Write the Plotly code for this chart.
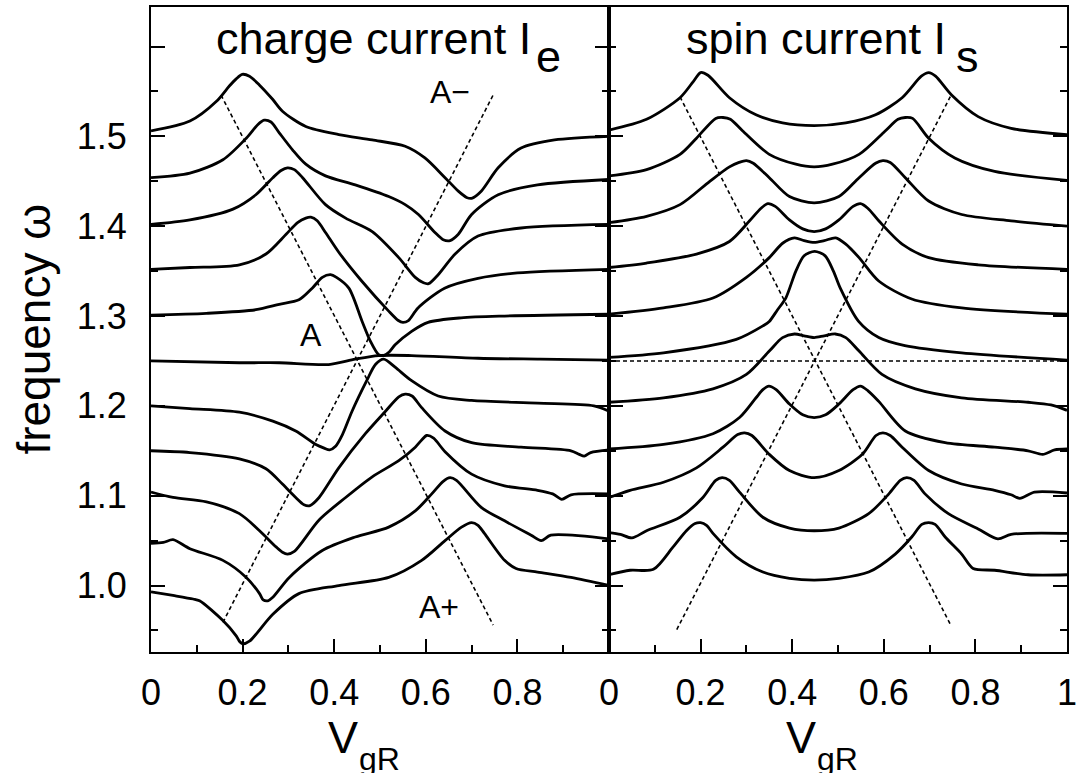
import plotly.graph_objects as go

# ---------------- data: charge current panel (V_gR, frequency) ----------------
charge_150_V = [0, 0.085, 0.143, 0.171, 0.186, 0.199, 0.215, 0.237, 0.266, 0.287, 0.338, 0.410, 0.483, 0.555, 0.598, 0.642, 0.671, 0.689, 0.700, 0.721, 0.758, 0.808, 0.881, 1.0]
charge_150_w = [1.506, 1.517, 1.539, 1.556, 1.564, 1.569, 1.567, 1.557, 1.541, 1.528, 1.511, 1.502, 1.496, 1.489, 1.476, 1.454, 1.439, 1.432, 1.431, 1.439, 1.465, 1.487, 1.496, 1.500]

charge_145_V = [0, 0.085, 0.157, 0.208, 0.233, 0.247, 0.262, 0.280, 0.309, 0.338, 0.381, 0.446, 0.519, 0.555, 0.584, 0.620, 0.638, 0.653, 0.671, 0.700, 0.758, 0.844, 1.0]
charge_145_w = [1.454, 1.459, 1.474, 1.498, 1.513, 1.518, 1.516, 1.504, 1.485, 1.469, 1.456, 1.446, 1.433, 1.424, 1.413, 1.393, 1.385, 1.384, 1.391, 1.413, 1.435, 1.446, 1.452]

charge_140_V = [0, 0.085, 0.179, 0.229, 0.266, 0.284, 0.298, 0.313, 0.331, 0.381, 0.425, 0.483, 0.541, 0.577, 0.595, 0.606, 0.627, 0.664, 0.714, 0.808, 1.0]
charge_140_w = [1.402, 1.407, 1.419, 1.435, 1.454, 1.462, 1.465, 1.463, 1.454, 1.424, 1.409, 1.394, 1.365, 1.343, 1.337, 1.336, 1.346, 1.369, 1.389, 1.398, 1.402]

charge_135_V = [0, 0.085, 0.193, 0.251, 0.295, 0.320, 0.338, 0.349, 0.363, 0.381, 0.410, 0.460, 0.518, 0.540, 0.550, 0.562, 0.583, 0.641, 0.714, 0.800, 1.0]
charge_135_w = [1.352, 1.354, 1.357, 1.369, 1.391, 1.404, 1.409, 1.410, 1.406, 1.393, 1.371, 1.339, 1.306, 1.295, 1.293, 1.295, 1.309, 1.331, 1.342, 1.348, 1.352]

charge_130_V = [0, 0.121, 0.229, 0.280, 0.323, 0.352, 0.374, 0.392, 0.405, 0.432, 0.461, 0.479, 0.497, 0.508, 0.520, 0.533, 0.569, 0.605, 0.677, 0.772, 1.0]
charge_130_w = [1.301, 1.303, 1.307, 1.313, 1.318, 1.331, 1.343, 1.346, 1.343, 1.331, 1.294, 1.272, 1.257, 1.256, 1.260, 1.268, 1.283, 1.293, 1.298, 1.300, 1.302]

charge_125_V = [0, 0.193, 0.280, 0.388, 0.446, 0.497, 0.569, 0.714, 0.850, 1.0]
charge_125_w = [1.250, 1.248, 1.248, 1.246, 1.252, 1.256, 1.256, 1.253, 1.252, 1.251]

charge_120_V = [0, 0.085, 0.193, 0.266, 0.316, 0.360, 0.378, 0.390, 0.403, 0.418, 0.439, 0.471, 0.490, 0.508, 0.533, 0.569, 0.627, 0.700, 0.844, 0.967, 1.0]
charge_120_w = [1.200, 1.197, 1.193, 1.183, 1.172, 1.157, 1.153, 1.151, 1.155, 1.168, 1.194, 1.228, 1.246, 1.252, 1.243, 1.228, 1.211, 1.206, 1.203, 1.200, 1.194]

charge_115_V = [0, 0.085, 0.193, 0.251, 0.287, 0.316, 0.334, 0.347, 0.367, 0.410, 0.468, 0.512, 0.541, 0.555, 0.570, 0.591, 0.642, 0.700, 0.808, 0.917, 0.935, 0.946, 0.960, 1.0]
charge_115_w = [1.150, 1.148, 1.141, 1.130, 1.113, 1.098, 1.090, 1.089, 1.098, 1.131, 1.169, 1.194, 1.210, 1.213, 1.211, 1.198, 1.172, 1.159, 1.154, 1.150, 1.146, 1.144, 1.148, 1.151]

charge_110_V = [0, 0.048, 0.121, 0.193, 0.237, 0.273, 0.287, 0.298, 0.313, 0.367, 0.425, 0.483, 0.541, 0.577, 0.591, 0.602, 0.617, 0.642, 0.700, 0.772, 0.844, 0.877, 0.897, 0.917, 1.0]
charge_110_w = [1.104, 1.098, 1.093, 1.080, 1.061, 1.043, 1.037, 1.035, 1.038, 1.073, 1.098, 1.121, 1.139, 1.154, 1.162, 1.167, 1.164, 1.149, 1.124, 1.111, 1.106, 1.102, 1.096, 1.101, 1.102]

charge_105_V = [0, 0.027, 0.048, 0.085, 0.157, 0.208, 0.237, 0.245, 0.255, 0.266, 0.302, 0.374, 0.446, 0.519, 0.577, 0.613, 0.638, 0.653, 0.667, 0.721, 0.772, 0.830, 0.852, 0.873, 1.0]
charge_105_w = [1.047, 1.048, 1.051, 1.041, 1.028, 1.009, 0.991, 0.984, 0.983, 0.987, 1.009, 1.039, 1.054, 1.065, 1.083, 1.102, 1.116, 1.120, 1.117, 1.087, 1.072, 1.056, 1.050, 1.056, 1.052]

charge_100_V = [0, 0.048, 0.092, 0.106, 0.157, 0.186, 0.193, 0.200, 0.215, 0.266, 0.323, 0.410, 0.519, 0.591, 0.642, 0.678, 0.700, 0.714, 0.728, 0.772, 0.797, 0.844, 0.917, 1.0]
charge_100_w = [0.993, 0.989, 0.985, 0.983, 0.961, 0.944, 0.938, 0.935, 0.938, 0.968, 0.991, 1.000, 1.009, 1.028, 1.050, 1.065, 1.070, 1.067, 1.058, 1.028, 1.019, 1.015, 1.009, 1.000]

# ---------------- data: spin current panel ----------------
spin_150_V = [0, 0.082, 0.155, 0.184, 0.200, 0.216, 0.263, 0.321, 0.379, 0.448, 0.517, 0.582, 0.640, 0.682, 0.698, 0.713, 0.748, 0.806, 0.878, 1.0]
spin_150_w = [1.507, 1.519, 1.543, 1.561, 1.571, 1.568, 1.543, 1.524, 1.515, 1.512, 1.515, 1.524, 1.543, 1.567, 1.571, 1.567, 1.546, 1.522, 1.509, 1.502]

spin_145_V = [0, 0.082, 0.155, 0.191, 0.233, 0.249, 0.265, 0.292, 0.350, 0.408, 0.448, 0.488, 0.546, 0.603, 0.631, 0.647, 0.663, 0.698, 0.755, 0.842, 1.0]
spin_145_w = [1.456, 1.463, 1.480, 1.498, 1.520, 1.521, 1.519, 1.506, 1.480, 1.469, 1.466, 1.469, 1.480, 1.506, 1.519, 1.521, 1.520, 1.498, 1.476, 1.461, 1.451]

spin_140_V = [0, 0.082, 0.155, 0.220, 0.263, 0.284, 0.300, 0.315, 0.350, 0.394, 0.448, 0.502, 0.546, 0.582, 0.598, 0.614, 0.647, 0.698, 0.770, 0.878, 1.0]
spin_140_w = [1.404, 1.411, 1.424, 1.450, 1.466, 1.471, 1.473, 1.470, 1.454, 1.433, 1.426, 1.433, 1.454, 1.470, 1.473, 1.471, 1.454, 1.428, 1.413, 1.406, 1.400]

spin_135_V = [0, 0.082, 0.191, 0.263, 0.307, 0.332, 0.347, 0.363, 0.394, 0.423, 0.448, 0.473, 0.502, 0.533, 0.549, 0.565, 0.589, 0.640, 0.698, 0.806, 1.0]
spin_135_w = [1.354, 1.359, 1.369, 1.383, 1.406, 1.420, 1.425, 1.422, 1.407, 1.397, 1.394, 1.397, 1.407, 1.422, 1.425, 1.420, 1.406, 1.380, 1.365, 1.357, 1.352]

spin_130_V = [0, 0.119, 0.227, 0.300, 0.350, 0.379, 0.405, 0.426, 0.448, 0.470, 0.495, 0.517, 0.546, 0.589, 0.661, 0.770, 1.0]
spin_130_w = [1.302, 1.309, 1.320, 1.343, 1.365, 1.381, 1.387, 1.384, 1.382, 1.384, 1.387, 1.380, 1.365, 1.339, 1.319, 1.309, 1.302]

spin_125_V = [0, 0.119, 0.278, 0.336, 0.350, 0.368, 0.386, 0.408, 0.426, 0.449, 0.472, 0.490, 0.505, 0.545, 0.589, 0.646, 0.770, 1.0]
spin_125_w = [1.254, 1.259, 1.274, 1.289, 1.294, 1.307, 1.320, 1.350, 1.367, 1.372, 1.367, 1.350, 1.331, 1.294, 1.276, 1.267, 1.259, 1.251]

spin_120_V = [0, 0.119, 0.227, 0.300, 0.350, 0.379, 0.405, 0.426, 0.448, 0.470, 0.494, 0.517, 0.546, 0.596, 0.669, 0.770, 0.915, 0.965, 1.0]
spin_120_w = [1.204, 1.209, 1.219, 1.235, 1.261, 1.276, 1.280, 1.278, 1.276, 1.278, 1.280, 1.276, 1.261, 1.235, 1.219, 1.209, 1.204, 1.201, 1.195]

spin_115_V = [0, 0.119, 0.227, 0.285, 0.321, 0.336, 0.349, 0.365, 0.394, 0.423, 0.448, 0.473, 0.502, 0.533, 0.549, 0.565, 0.589, 0.647, 0.734, 0.842, 0.915, 0.947, 0.973, 1.0]
spin_115_w = [1.152, 1.157, 1.169, 1.187, 1.209, 1.218, 1.222, 1.218, 1.202, 1.190, 1.187, 1.190, 1.202, 1.218, 1.222, 1.217, 1.205, 1.172, 1.159, 1.154, 1.150, 1.146, 1.151, 1.152]

spin_110_V = [0, 0.046, 0.119, 0.191, 0.249, 0.281, 0.296, 0.312, 0.350, 0.394, 0.448, 0.502, 0.553, 0.583, 0.598, 0.614, 0.640, 0.698, 0.770, 0.842, 0.878, 0.897, 0.929, 1.0]
spin_110_w = [1.098, 1.106, 1.115, 1.131, 1.154, 1.168, 1.170, 1.167, 1.146, 1.128, 1.120, 1.128, 1.146, 1.167, 1.170, 1.167, 1.154, 1.128, 1.113, 1.106, 1.101, 1.097, 1.104, 1.103]

spin_105_V = [0, 0.025, 0.050, 0.082, 0.155, 0.205, 0.233, 0.247, 0.263, 0.285, 0.336, 0.394, 0.448, 0.502, 0.567, 0.611, 0.636, 0.650, 0.666, 0.690, 0.741, 0.806, 0.849, 0.878, 1.0]
spin_105_w = [1.059, 1.057, 1.053, 1.061, 1.076, 1.098, 1.117, 1.120, 1.117, 1.104, 1.076, 1.064, 1.061, 1.064, 1.080, 1.102, 1.117, 1.120, 1.117, 1.102, 1.080, 1.063, 1.052, 1.057, 1.058]

spin_100_V = [0, 0.046, 0.097, 0.140, 0.169, 0.188, 0.200, 0.213, 0.227, 0.278, 0.336, 0.394, 0.448, 0.502, 0.567, 0.625, 0.661, 0.683, 0.698, 0.712, 0.734, 0.770, 0.795, 0.842, 0.915, 1.0]
spin_100_w = [1.012, 1.017, 1.018, 1.043, 1.061, 1.069, 1.070, 1.067, 1.058, 1.032, 1.015, 1.008, 1.006, 1.008, 1.015, 1.035, 1.054, 1.068, 1.070, 1.068, 1.054, 1.035, 1.019, 1.017, 1.012, 1.012]

# ---------------- guide lines (dashed) ----------------
charge_Aplus_V = [0.153, 0.747]
charge_Aplus_w = [1.546, 0.956]
charge_Aminus_V = [0.157, 0.747]
charge_Aminus_w = [0.959, 1.546]
spin_Aplus_V = [0.155, 0.747]
spin_Aplus_w = [1.544, 0.955]
spin_Aminus_V = [0.148, 0.747]
spin_Aminus_w = [0.951, 1.546]
spin_A_V = [0.0, 1.0]
spin_A_w = [1.25, 1.25]

# ---------------- labels / ticks ----------------
charge_tick_vals = [0, 0.2, 0.4, 0.6, 0.8]
charge_tick_text = ["0", "0.2", "0.4", "0.6", "0.8"]
spin_tick_vals = [0, 0.2, 0.4, 0.6, 0.8, 1.0]
spin_tick_text = ["0", "0.2", "0.4", "0.6", "0.8", "1"]
freq_tick_vals = [1.0, 1.1, 1.2, 1.3, 1.4, 1.5, 1.6]
freq_tick_text = ["1.0", "1.1", "1.2", "1.3", "1.4", "1.5", ""]
label_text = ["A", "A\u2212", "A+"]
label_V = [0.350, 0.652, 0.629]
label_w = [1.279, 1.549, 0.976]

charge_curves = [
    (charge_100_V, charge_100_w), (charge_105_V, charge_105_w), (charge_110_V, charge_110_w),
    (charge_115_V, charge_115_w), (charge_120_V, charge_120_w), (charge_125_V, charge_125_w),
    (charge_130_V, charge_130_w), (charge_135_V, charge_135_w), (charge_140_V, charge_140_w),
    (charge_145_V, charge_145_w), (charge_150_V, charge_150_w),
]
spin_curves = [
    (spin_100_V, spin_100_w), (spin_105_V, spin_105_w), (spin_110_V, spin_110_w),
    (spin_115_V, spin_115_w), (spin_120_V, spin_120_w), (spin_125_V, spin_125_w),
    (spin_130_V, spin_130_w), (spin_135_V, spin_135_w), (spin_140_V, spin_140_w),
    (spin_145_V, spin_145_w), (spin_150_V, spin_150_w),
]

FONT = "Liberation Sans, Arial, Helvetica, sans-serif"
fig = go.Figure()

dash_style = dict(color="black", width=1.6, dash="4px,3px")
for xs, ys in [(charge_Aplus_V, charge_Aplus_w), (charge_Aminus_V, charge_Aminus_w)]:
    fig.add_trace(go.Scatter(x=xs, y=ys, mode="lines", line=dash_style, xaxis="x", yaxis="y", showlegend=False, hoverinfo="skip"))
for xs, ys in [(spin_Aplus_V, spin_Aplus_w), (spin_Aminus_V, spin_Aminus_w), (spin_A_V, spin_A_w)]:
    fig.add_trace(go.Scatter(x=xs, y=ys, mode="lines", line=dash_style, xaxis="x2", yaxis="y2", showlegend=False, hoverinfo="skip"))

curve_style = dict(color="black", width=2.8, shape="spline", smoothing=0.8)
for xs, ys in charge_curves:
    fig.add_trace(go.Scatter(x=xs, y=ys, mode="lines", line=curve_style, xaxis="x", yaxis="y", showlegend=False))
for xs, ys in spin_curves:
    fig.add_trace(go.Scatter(x=xs, y=ys, mode="lines", line=curve_style, xaxis="x2", yaxis="y2", showlegend=False))

tickfont = dict(family=FONT, size=36, color="black")
xcommon = dict(range=[0, 1], showline=True, linewidth=2, linecolor="black", mirror=True,
               ticks="inside", ticklen=13, tickwidth=1.5, tickcolor="black",
               showgrid=False, zeroline=False, tickfont=tickfont, ticklabelstandoff=8,
               ticklabeloverflow="allow",
               minor=dict(ticks="inside", ticklen=7, tickwidth=1.5, tickcolor="black", dtick=0.1, tick0=0, showgrid=False))
ycommon = dict(range=[0.926, 1.644], showline=True, linewidth=2, linecolor="black", mirror="ticks",
               ticks="inside", ticklen=14, tickwidth=1.5, tickcolor="black",
               tickmode="array", tickvals=freq_tick_vals, ticktext=freq_tick_text,
               showgrid=False, zeroline=False, tickfont=tickfont, ticklabelstandoff=15,
               minor=dict(ticks="inside", ticklen=7, tickwidth=1.5, tickcolor="black", dtick=0.05, tick0=0.95, showgrid=False))

fig.update_layout(
    width=1082, height=773,
    margin=dict(l=151, r=9, t=5, b=121),
    paper_bgcolor="white", plot_bgcolor="white",
    xaxis=dict(domain=[0, 0.5], anchor="y", tickmode="array", tickvals=charge_tick_vals, ticktext=charge_tick_text, **xcommon),
    xaxis2=dict(domain=[0.5, 1], anchor="y2", tickmode="array", tickvals=spin_tick_vals, ticktext=spin_tick_text, **xcommon),
    yaxis=dict(anchor="x", **ycommon),
    yaxis2=dict(anchor="x2", showticklabels=False, **ycommon),
)

big = dict(family=FONT, size=45, color="black")
ann = []
for t, vx, vy in zip(label_text, label_V, label_w):
    ann.append(dict(x=vx, y=vy, xref="x", yref="y", text=t, showarrow=False,
                    font=dict(family=FONT, size=32, color="black"), xanchor="center", yanchor="middle"))
# panel titles (main text + lowered subscript)
ann.append(dict(x=0.1367, y=0.9938, xref="x", yref="paper", text="charge current I", showarrow=False,
                font=big, xanchor="left", yanchor="top"))
ann.append(dict(x=0.837, y=0.966, xref="x", yref="paper", text="e", showarrow=False,
                font=big, xanchor="left", yanchor="top"))
ann.append(dict(x=0.1627, y=0.9938, xref="x2", yref="paper", text="spin current I", showarrow=False,
                font=big, xanchor="left", yanchor="top"))
ann.append(dict(x=0.753, y=0.966, xref="x2", yref="paper", text="s", showarrow=False,
                font=big, xanchor="left", yanchor="top"))
# axis titles V_gR
for xr in ["x", "x2"]:
    ann.append(dict(x=0.3818, y=-0.0904, xref=xr, yref="paper", text="V", showarrow=False,
                    font=big, xanchor="left", yanchor="top"))
    ann.append(dict(x=0.449, y=-0.1352, xref=xr, yref="paper", text="gR", showarrow=False,
                    font=dict(family=FONT, size=32, color="black"), xanchor="left", yanchor="top"))
ann.append(dict(x=-0.128, y=0.501, xref="paper", yref="paper", text="frequency \u03c9", showarrow=False, textangle=-90,
                font=dict(family=FONT, size=46, color="black"), xanchor="center", yanchor="middle"))
fig.update_layout(annotations=ann)

fig.write_html("out.html", config={"displayModeBar": False},
               post_script="document.body.style.margin='0';document.body.style.overflow='hidden';")
